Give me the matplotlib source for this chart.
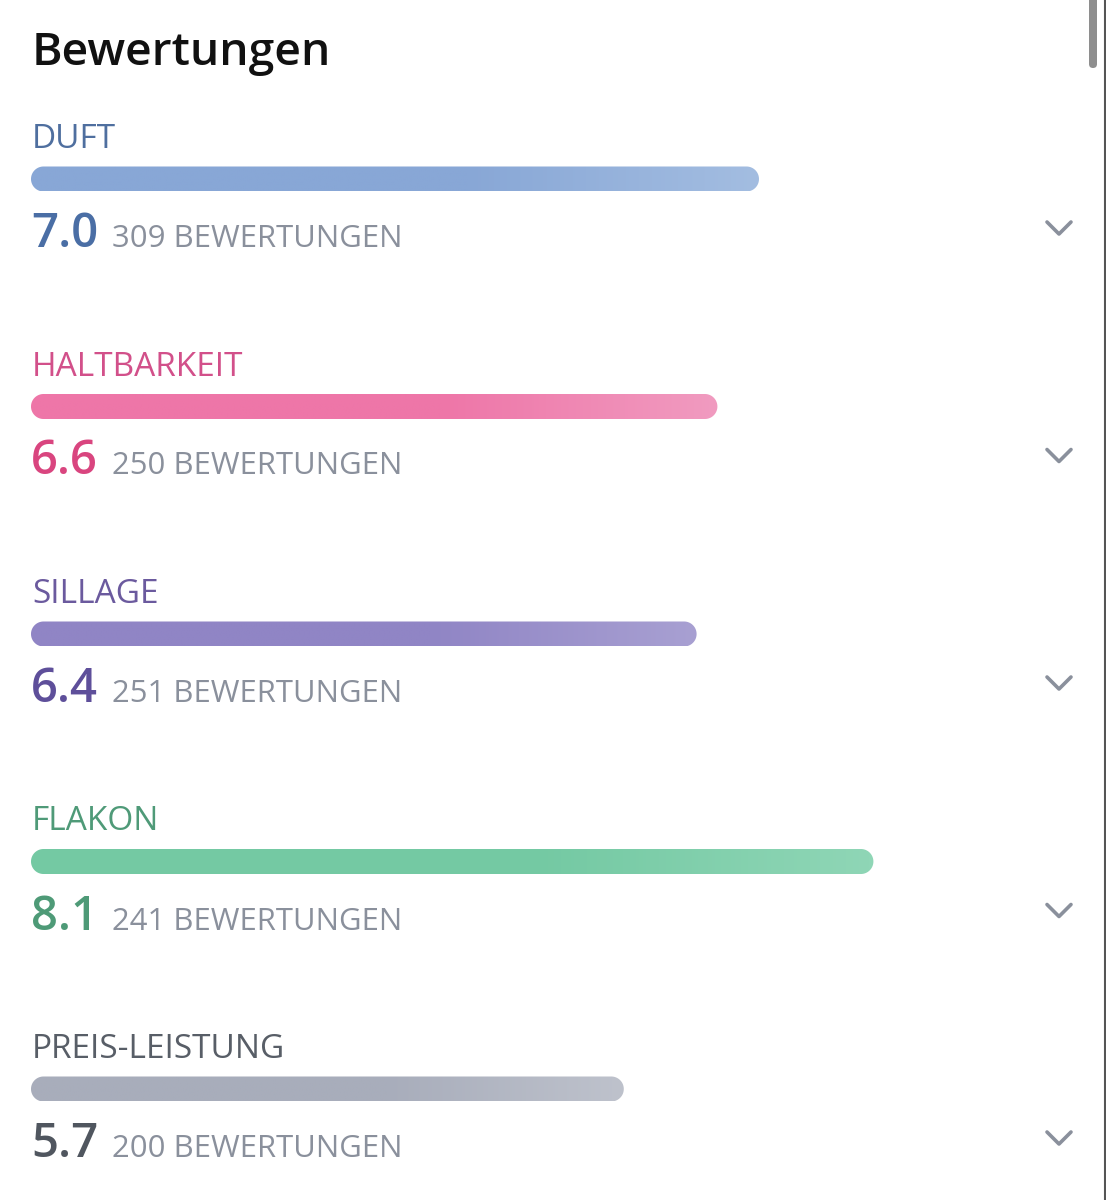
import matplotlib
matplotlib.use("Agg")
import matplotlib.pyplot as plt
import numpy as np
from matplotlib.patches import FancyBboxPatch, PathPatch
from matplotlib.path import Path
from matplotlib.colors import LinearSegmentedColormap

# ---- data ----
categories = ["DUFT", "HALTBARKEIT", "SILLAGE", "FLAKON", "PREIS-LEISTUNG"]
scores = [7.0, 6.6, 6.4, 8.1, 5.7]
counts = [309, 250, 251, 241, 200]
count_suffix = "BEWERTUNGEN"
title = "Bewertungen"
max_score = 10

# ---- styles ----
label_colors = ["#4f6f9f", "#d2508a", "#6b5a9e", "#4f9a78", "#585e67"]
value_colors = ["#4a6ea5", "#d9457f", "#5e4f9a", "#4e9a77", "#50565f"]
bar_colors = ["#88a7d6", "#ee76a8", "#9085c5", "#74c9a3", "#a8adbb"]
bar_light = ["#a3bde1", "#f19bc0", "#a8a0d2", "#8fd6b6", "#bec2cc"]
count_color = "#8a909c"

W, H = 1106, 1200
fig = plt.figure(figsize=(W / 100, H / 100), dpi=100)
fig.patch.set_facecolor("white")

# overlay axes in pixel coordinates for decorations
ov = fig.add_axes([0, 0, 1, 1])
ov.set_xlim(0, W)
ov.set_ylim(H, 0)
ov.axis("off")

# data axes: bar area from x=31px to 1071px, value 0..max_score
x0, x1 = 31, 1071
ax = fig.add_axes([x0 / W, 0, (x1 - x0) / W, 1])
ax.set_xlim(0, max_score)
ax.set_ylim(H, 0)
ax.axis("off")

FONT = ["Open Sans", "DejaVu Sans"]

ov.text(32, 65, title, fontsize=33.3, fontweight="semibold", family=FONT,
        color="#111111", ha="left", va="baseline")

step = 227.5
bar_h = 25
px_per_unit = (x1 - x0) / max_score
r_y = bar_h / 2
r_x = r_y / px_per_unit


def pill_path(length, yc):
    t1 = np.linspace(np.pi / 2, 3 * np.pi / 2, 40)   # left cap
    t2 = np.linspace(-np.pi / 2, np.pi / 2, 40)      # right cap
    lx = r_x + r_x * np.cos(t1)
    ly = yc + r_y * np.sin(t1)
    rx = (length - r_x) + r_x * np.cos(t2)
    ry = yc + r_y * np.sin(t2)
    xs = np.concatenate([lx, rx, lx[:1]])
    ys = np.concatenate([ly, ry, ly[:1]])
    codes = [Path.MOVETO] + [Path.LINETO] * (len(xs) - 2) + [Path.CLOSEPOLY]
    return Path(np.column_stack([xs, ys]), codes)


for i, (cat, sc, cnt) in enumerate(zip(categories, scores, counts)):
    base = i * step
    label_y = 148 + base
    bar_c = 179 + base
    val_y = 247 + base

    ov.text(32, label_y, cat, fontsize=24, family=FONT, color=label_colors[i],
            ha="left", va="baseline")

    # rounded gradient bar
    patch = PathPatch(pill_path(sc, bar_c), facecolor="none", edgecolor="none")
    ax.add_patch(patch)
    cmap = LinearSegmentedColormap.from_list(
        f"g{i}", [(0, bar_colors[i]), (0.6, bar_colors[i]), (1, bar_light[i])])
    grad = np.linspace(0, 1, 256).reshape(1, -1)
    im = ax.imshow(grad, cmap=cmap, aspect="auto",
                   extent=[0, sc, bar_c + bar_h / 2, bar_c - bar_h / 2],
                   interpolation="bilinear")
    im.set_clip_path(patch)

    ov.text(31, val_y, f"{sc:.1f}", fontsize=34, fontweight="semibold", family=FONT,
            color=value_colors[i], ha="left", va="baseline")
    ov.text(112, val_y, f"{cnt} {count_suffix}", fontsize=22.4, family=FONT,
            color=count_color, ha="left", va="baseline")

    # chevron
    cy = 228 + base
    ov.plot([1047, 1059, 1071], [cy - 6, cy + 6, cy - 6], color="#8a909c",
            lw=2.6, solid_capstyle="round", solid_joinstyle="round")

ax.set_xlim(0, max_score)
ax.set_ylim(H, 0)

# scrollbar
ov.add_patch(FancyBboxPatch((1089, -10), 8, 78, boxstyle="round,pad=0,rounding_size=4",
                            facecolor="#8e8e8e", edgecolor="none"))
ov.plot([1104.5, 1104.5], [0, H], color="#555555", lw=1.5)

fig.savefig("out.png", dpi=100, facecolor="white")
